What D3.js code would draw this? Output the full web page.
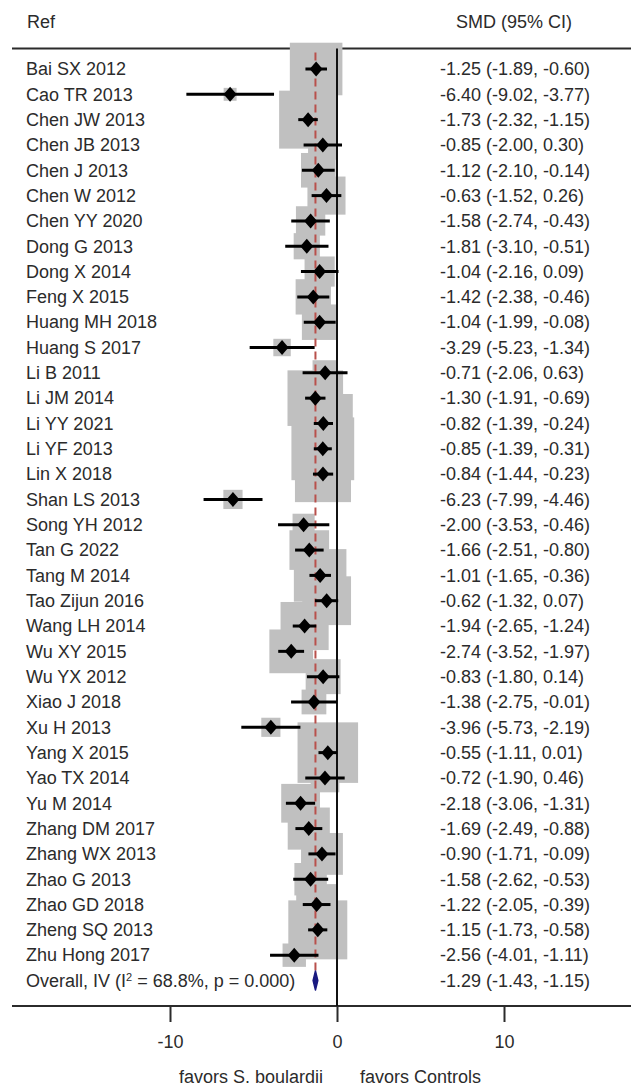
<!DOCTYPE html>
<html>
<head>
<meta charset="utf-8">
<script src="https://cdn.jsdelivr.net/npm/d3@7"></script>
<style>
  html, body { margin: 0; padding: 0; background: #fff; }
  svg { display: block; font-family: "Liberation Sans", Arial, sans-serif; }
</style>
</head>
<body>
<svg id="chart" width="631" height="1087"></svg>
<script>
// Study labels, standardized mean differences and 95% confidence limits
const studies = [
  "Bai SX 2012", "Cao TR 2013", "Chen JW 2013", "Chen JB 2013", "Chen J 2013",
  "Chen W 2012", "Chen YY 2020", "Dong G 2013", "Dong X 2014", "Feng X 2015",
  "Huang MH 2018", "Huang S 2017", "Li B 2011", "Li JM 2014", "Li YY 2021",
  "Li YF 2013", "Lin X 2018", "Shan LS 2013", "Song YH 2012", "Tan G 2022",
  "Tang M 2014", "Tao Zijun 2016", "Wang LH 2014", "Wu XY 2015", "Wu YX 2012",
  "Xiao J 2018", "Xu H 2013", "Yang X 2015", "Yao TX 2014", "Yu M 2014",
  "Zhang DM 2017", "Zhang WX 2013", "Zhao G 2013", "Zhao GD 2018", "Zheng SQ 2013",
  "Zhu Hong 2017"
];
const smd = [
  -1.25, -6.40, -1.73, -0.85, -1.12, -0.63, -1.58, -1.81, -1.04, -1.42,
  -1.04, -3.29, -0.71, -1.30, -0.82, -0.85, -0.84, -6.23, -2.00, -1.66,
  -1.01, -0.62, -1.94, -2.74, -0.83, -1.38, -3.96, -0.55, -0.72, -2.18,
  -1.69, -0.90, -1.58, -1.22, -1.15, -2.56
];
const lower = [
  -1.89, -9.02, -2.32, -2.00, -2.10, -1.52, -2.74, -3.10, -2.16, -2.38,
  -1.99, -5.23, -2.06, -1.91, -1.39, -1.39, -1.44, -7.99, -3.53, -2.51,
  -1.65, -1.32, -2.65, -3.52, -1.80, -2.75, -5.73, -1.11, -1.90, -3.06,
  -2.49, -1.71, -2.62, -2.05, -1.73, -4.01
];
const upper = [
  -0.60, -3.77, -1.15, 0.30, -0.14, 0.26, -0.43, -0.51, 0.09, -0.46,
  -0.08, -1.34, 0.63, -0.69, -0.24, -0.31, -0.23, -4.46, -0.46, -0.80,
  -0.36, 0.07, -1.24, -1.97, 0.14, -0.01, -2.19, 0.01, 0.46, -1.31,
  -0.88, -0.09, -0.53, -0.39, -0.58, -1.11
];
// Pooled (inverse-variance) estimate
const overallLabel = "Overall";
const overall = { est: -1.29, lo: -1.43, hi: -1.15 };
const xTicks = [-10, 0, 10];
const favorLeft = "favors S. boulardii";
const favorRight = "favors Controls";

const rows = studies.map((s, i) => ({ name: s, est: smd[i], lo: lower[i], hi: upper[i] }));

const svg = d3.select("#chart");
const ink = "#2b2b2b";
const fontSize = 18;

const x = d3.scaleLinear().domain([-10, 10]).range([170, 504]);
const y = d3.scalePoint().domain([...studies, overallLabel]).range([69, 980.5]);

const topY = 48.5, bottomY = 1006;
const fmt = v => v.toFixed(2);

// Headers
svg.append("text").attr("x", 27).attr("y", 22).attr("dy", "0.35em")
  .attr("font-size", fontSize).attr("fill", ink).text("Ref");
svg.append("text").attr("x", 514).attr("y", 22).attr("dy", "0.35em")
  .attr("text-anchor", "middle").attr("font-size", fontSize).attr("fill", ink).text("SMD (95% CI)");

// Frame lines above and below the study rows
svg.append("line").attr("x1", 12).attr("x2", 631).attr("y1", topY).attr("y2", topY)
  .attr("stroke", ink).attr("stroke-width", 2);
svg.append("line").attr("x1", 12).attr("x2", 631).attr("y1", bottomY).attr("y2", bottomY)
  .attr("stroke", ink).attr("stroke-width", 2);

// Weight boxes: area proportional to inverse-variance weight (side ~ 1/SE)
const boxK = 17.3;
svg.append("g").selectAll("rect").data(rows).join("rect")
  .attr("fill", "#c0c0c0")
  .each(function (d) {
    const se = (d.hi - d.lo) / (2 * 1.96);
    const side = boxK / se;
    d3.select(this)
      .attr("x", x(d.est) - side / 2).attr("y", y(d.name) - side / 2)
      .attr("width", side).attr("height", side);
  });

// Line of no effect with axis ticks
const axis = d3.axisBottom(x).tickValues(xTicks).tickSize(16).tickFormat(d3.format("d"));
const gAxis = svg.append("g").attr("transform", `translate(0,${bottomY})`).call(axis);
gAxis.select(".domain").remove();
gAxis.selectAll(".tick line").attr("stroke", ink).attr("stroke-width", 2);
gAxis.selectAll(".tick text").attr("fill", ink).attr("font-size", fontSize)
  .attr("font-family", "Liberation Sans, Arial, sans-serif")
  .attr("y", 0).attr("dy", "0").attr("transform", "translate(0,42)")
  .text(d => d < 0 ? "-" + Math.abs(d) : String(d));
svg.append("line").attr("x1", x(0)).attr("x2", x(0)).attr("y1", topY).attr("y2", bottomY)
  .attr("stroke", "#111").attr("stroke-width", 2);

// Pooled-estimate reference line
svg.append("line").attr("x1", x(overall.est)).attr("x2", x(overall.est))
  .attr("y1", topY + 4).attr("y2", y(overallLabel) - 9)
  .attr("stroke", "#b8504c").attr("stroke-width", 2).attr("stroke-dasharray", "8,5");

// Confidence intervals
svg.append("g").selectAll("line").data(rows).join("line")
  .attr("x1", d => x(d.lo)).attr("x2", d => x(d.hi))
  .attr("y1", d => y(d.name)).attr("y2", d => y(d.name))
  .attr("stroke", "#000").attr("stroke-width", 3);

// Point estimates
svg.append("g").selectAll("path").data(rows).join("path")
  .attr("d", d => {
    const cx = x(d.est), cy = y(d.name), w = 6.5, h = 7.5;
    return `M${cx - w},${cy}L${cx},${cy - h}L${cx + w},${cy}L${cx},${cy + h}Z`;
  })
  .attr("fill", "#000");

// Pooled diamond
{
  const cy = y(overallLabel);
  svg.append("path")
    .attr("d", `M${x(overall.lo)},${cy}L${x(overall.est)},${cy - 9.5}L${x(overall.hi)},${cy}L${x(overall.est)},${cy + 9.5}Z`)
    .attr("fill", "#1a1a80").attr("stroke", "#1a1a80").attr("stroke-width", 1.5)
    .attr("stroke-linejoin", "round");
}

// Study labels
svg.append("g").selectAll("text").data(rows).join("text")
  .attr("x", 26).attr("y", d => y(d.name)).attr("dy", "0.35em")
  .attr("font-size", fontSize).attr("fill", ink).text(d => d.name);

// Effect sizes with confidence limits
svg.append("g").selectAll("text").data(rows).join("text")
  .attr("x", 440).attr("y", d => y(d.name)).attr("dy", "0.35em")
  .attr("font-size", fontSize).attr("fill", ink)
  .text(d => `${fmt(d.est)} (${fmt(d.lo)}, ${fmt(d.hi)})`);

// Overall row text
{
  const cy = y(overallLabel);
  const t = svg.append("text").attr("x", 26).attr("y", cy).attr("dy", "0.35em")
    .attr("font-size", fontSize).attr("fill", ink);
  t.append("tspan").text("Overall, IV (I");
  t.append("tspan").attr("font-size", 11).attr("dy", "-0.55em").text("2");
  t.append("tspan").attr("dy", "0.35em").text(" = 68.8%, p = 0.000)");
  svg.append("text").attr("x", 440).attr("y", cy).attr("dy", "0.35em")
    .attr("font-size", fontSize).attr("fill", ink)
    .text(`${fmt(overall.est)} (${fmt(overall.lo)}, ${fmt(overall.hi)})`);
}

// Direction labels
svg.append("text").attr("x", 323).attr("y", 1077).attr("dy", "0.35em")
  .attr("text-anchor", "end").attr("font-size", fontSize).attr("fill", ink).text(favorLeft);
svg.append("text").attr("x", 360).attr("y", 1077).attr("dy", "0.35em")
  .attr("font-size", fontSize).attr("fill", ink).text(favorRight);
</script>
</body>
</html>
